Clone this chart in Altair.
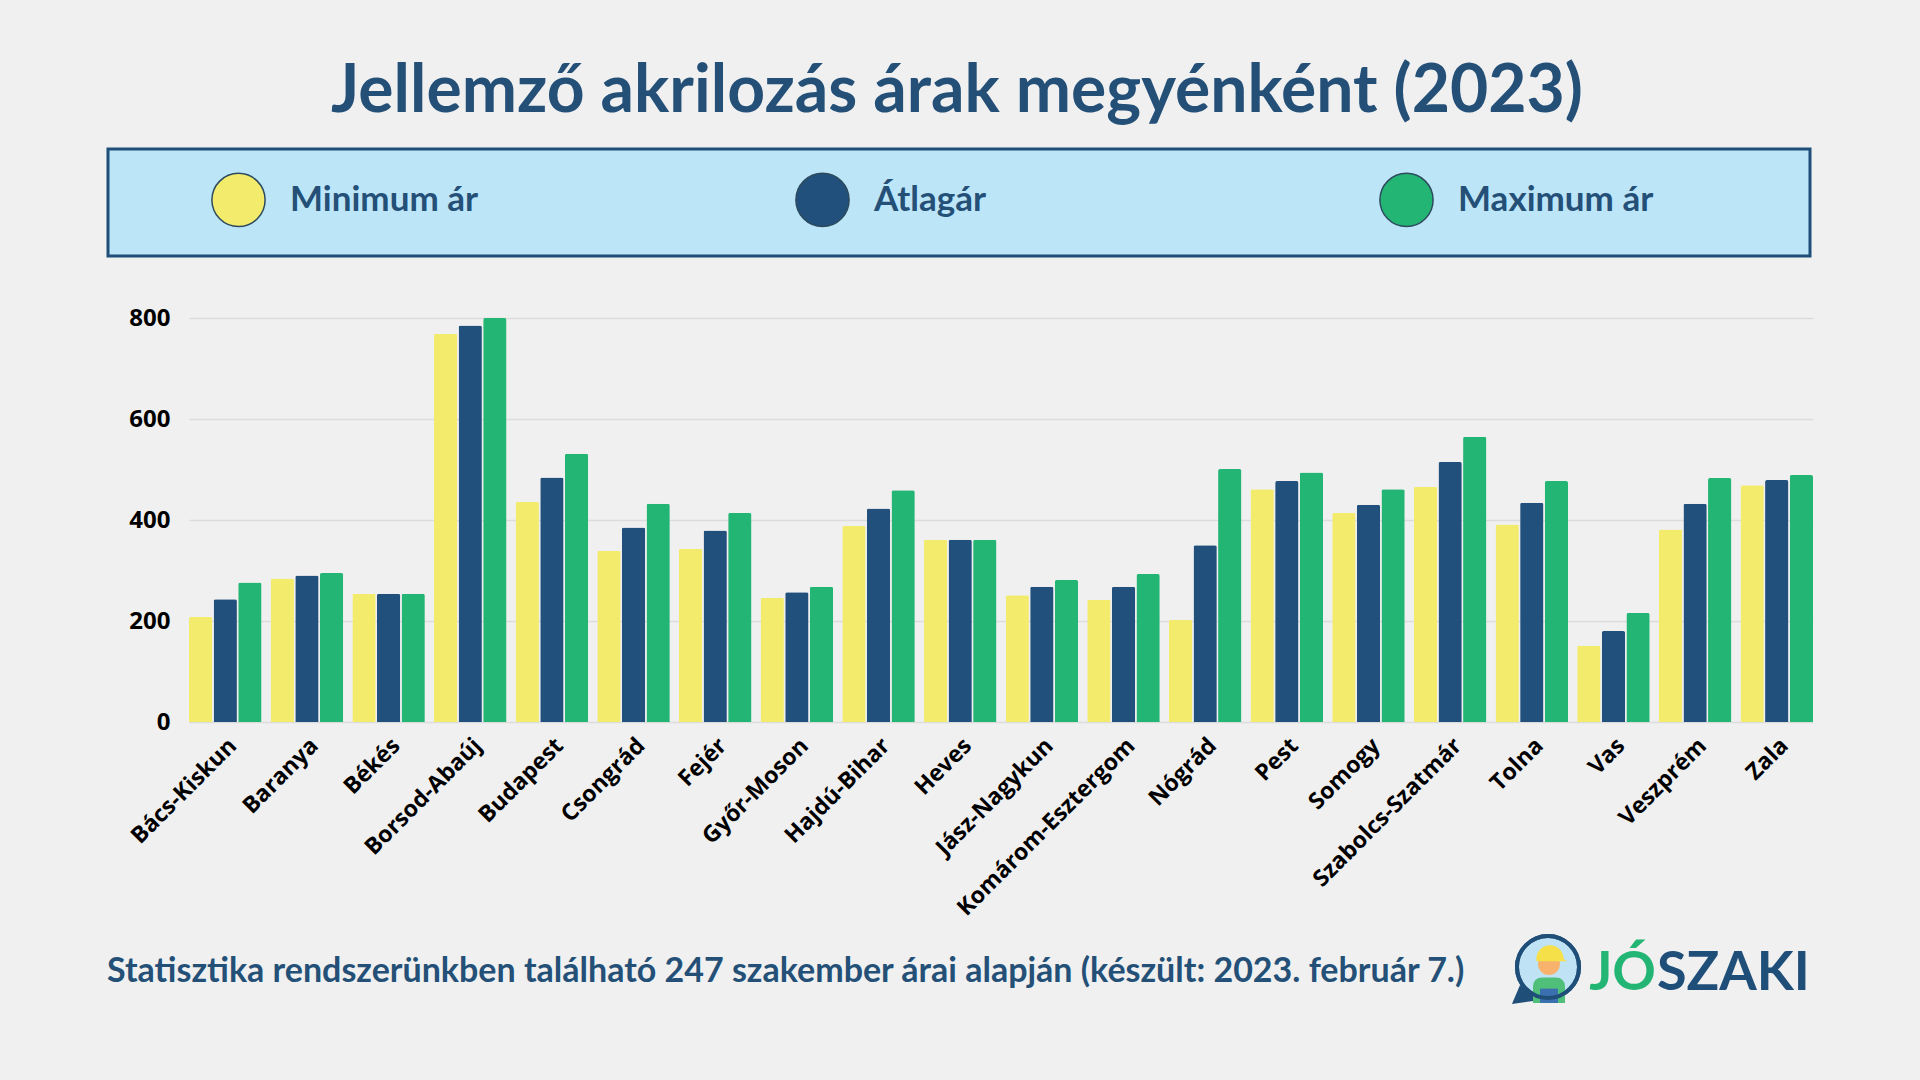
import altair as alt
import pandas as pd

counties = ["Bács-Kiskun", "Baranya", "Békés", "Borsod-Abaúj", "Budapest", "Csongrád",
            "Fejér", "Győr-Moson", "Hajdú-Bihar", "Heves", "Jász-Nagykun",
            "Komárom-Esztergom", "Nógrád", "Pest", "Somogy", "Szabolcs-Szatmár",
            "Tolna", "Vas", "Veszprém", "Zala"]
min_price = [208, 284, 254, 769, 436, 339, 343, 246, 388, 361, 251, 242, 202, 461, 414, 466, 391, 151, 381, 469]
avg_price = [243, 290, 254, 785, 484, 385, 379, 257, 423, 361, 268, 268, 350, 477, 430, 515, 434, 180, 432, 479]
max_price = [276, 295, 254, 800, 531, 432, 414, 268, 459, 361, 281, 293, 501, 494, 461, 565, 477, 216, 483, 489]
series = ["Minimum ár", "Átlagár", "Maximum ár"]
colors = ["#f3eb6b", "#21507c", "#23b574"]
y_ticks = [0, 200, 400, 600, 800]

title_text = "Jellemző akrilozás árak megyénként (2023)"
footer_text = "Statisztika rendszerünkben található 247 szakember árai alapján (készült: 2023. február 7.)"

rows = []
for i, c in enumerate(counties):
    for s, vals in zip(series, [min_price, avg_price, max_price]):
        rows.append({"megye": c, "sorozat": s, "ar": vals[i]})
df = pd.DataFrame(rows)

DARK = "#245078"
W, H = 1624, 404
L, T = 189, 318
one = pd.DataFrame({"k": [0]})

bars = alt.Chart(df).mark_bar(cornerRadiusTopLeft=2, cornerRadiusTopRight=2).encode(
    x=alt.X("megye:N", sort=counties,
            scale=alt.Scale(paddingInner=0.112, paddingOuter=0),
            axis=alt.Axis(title=None, labelAngle=-45, labelFontSize=23, labelFont="Open Sans",
                          labelFontWeight="bold", labelColor="#000000", labelPadding=12,
                          ticks=False, domain=False, grid=False, labelLimit=400)),
    xOffset=alt.XOffset("sorozat:N", sort=series,
                        scale=alt.Scale(paddingInner=0.053, paddingOuter=0)),
    y=alt.Y("ar:Q", scale=alt.Scale(domain=[0, 800], nice=False),
            axis=alt.Axis(title=None, values=y_ticks, labelFontSize=24, labelFont="Open Sans",
                          labelFontWeight="bold", labelColor="#000000", labelPadding=19,
                          grid=True, gridColor="#dcdcdc", gridWidth=1.5,
                          domain=False, ticks=False)),
    color=alt.Color("sorozat:N", sort=series,
                    scale=alt.Scale(domain=series, range=colors),
                    legend=alt.Legend(title=None, orient="none", legendX=22, legendY=-146,
                                      direction="horizontal", columns=3, gridAlign="all",
                                      columnPadding=306, symbolType="circle", symbolSize=2830,
                                      symbolStrokeColor="#2d4b5e", symbolStrokeWidth=1.5,
                                      symbolOpacity=1, labelFont="Lato", labelFontSize=35,
                                      labelFontWeight="bold", labelColor=DARK, labelOffset=24,
                                      labelLimit=400, padding=0)),
)

legend_box = alt.Chart(one).mark_rect(fill="#bde5f8", stroke="#1f4e79", strokeWidth=3).encode(
    x=alt.value(108 - L), x2=alt.value(1810 - L), y=alt.value(149 - T), y2=alt.value(256 - T))

title = alt.Chart(one).mark_text(text=title_text, font="Lato", fontSize=66, fontWeight="bold",
                                 color=DARK, align="center", baseline="alphabetic").encode(
    x=alt.value(957 - L), y=alt.value(112 - T))

footer = alt.Chart(one).mark_text(text=footer_text, font="Lato", fontSize=34, fontWeight="bold",
                                  color=DARK, align="left", baseline="alphabetic").encode(
    x=alt.value(107 - L), y=alt.value(982 - T))

logo_jo = alt.Chart(one).mark_text(text="JÓ", font="Lato", fontSize=54, fontWeight="bold",
                                   color="#23b574", align="right", baseline="alphabetic").encode(
    x=alt.value(1656 - L), y=alt.value(990 - T))
logo_szaki = alt.Chart(one).mark_text(text="SZAKI", font="Lato", fontSize=54, fontWeight="bold",
                                      color="#1f4e79", align="left", baseline="alphabetic").encode(
    x=alt.value(1657 - L), y=alt.value(990 - T))

tail = alt.Chart(one).mark_point(shape="M -0.33 -0.67 L -0.87 0.6 L 1 0.33 Z", filled=True,
                                 fill="#1f4e79", opacity=1, size=900).encode(
    x=alt.value(1525 - L), y=alt.value(995 - T))
bubble = alt.Chart(one).mark_point(shape="circle", filled=True, fill="#bfe3f5", stroke="#1f4e79",
                                   strokeWidth=4, opacity=1, size=3850).encode(
    x=alt.value(1548 - L), y=alt.value(967 - T))
body = alt.Chart(one).mark_point(shape="M -1 1 L -1 0 Q -1 -0.6 -0.4 -0.6 L 0.4 -0.6 Q 1 -0.6 1 0 L 1 1 Z",
                                 filled=True, fill="#4fbf7a", opacity=1, size=1024).encode(
    x=alt.value(1549 - L), y=alt.value(987 - T))
overalls = alt.Chart(one).mark_point(shape="M -1 1 L -1 -0.6 L 1 -0.6 L 1 1 Z", filled=True,
                                     fill="#3a6fb0", opacity=1, size=320).encode(
    x=alt.value(1549 - L), y=alt.value(994 - T))
face = alt.Chart(one).mark_point(shape="circle", filled=True, fill="#f7b26b", opacity=1,
                                 size=480).encode(
    x=alt.value(1549 - L), y=alt.value(964 - T))
hat = alt.Chart(one).mark_point(shape="M -0.8 0.4 A 0.8 0.8 0 0 1 0.8 0.4 L 1 0.55 L -0.8 0.55 Z",
                                filled=True, fill="#f5e04a", opacity=1, size=1156).encode(
    x=alt.value(1550 - L), y=alt.value(952 - T))
ring = alt.Chart(one).mark_point(shape="circle", filled=False, stroke="#1f4e79",
                                 strokeWidth=4, opacity=1, size=3850).encode(
    x=alt.value(1548 - L), y=alt.value(967 - T))

chart = alt.layer(
    legend_box, bars, title, footer, tail, bubble, body, overalls, face, hat, ring, logo_jo, logo_szaki
).properties(
    width=W, height=H,
    autosize=alt.AutoSizeParams(type="none"),
    padding={"left": L, "top": T, "right": 1920 - L - W, "bottom": 1080 - T - H},
    background="#f0f0f0",
).configure_view(stroke=None)

chart.save("out.html", embed_options={"renderer": "svg", "actions": False})
